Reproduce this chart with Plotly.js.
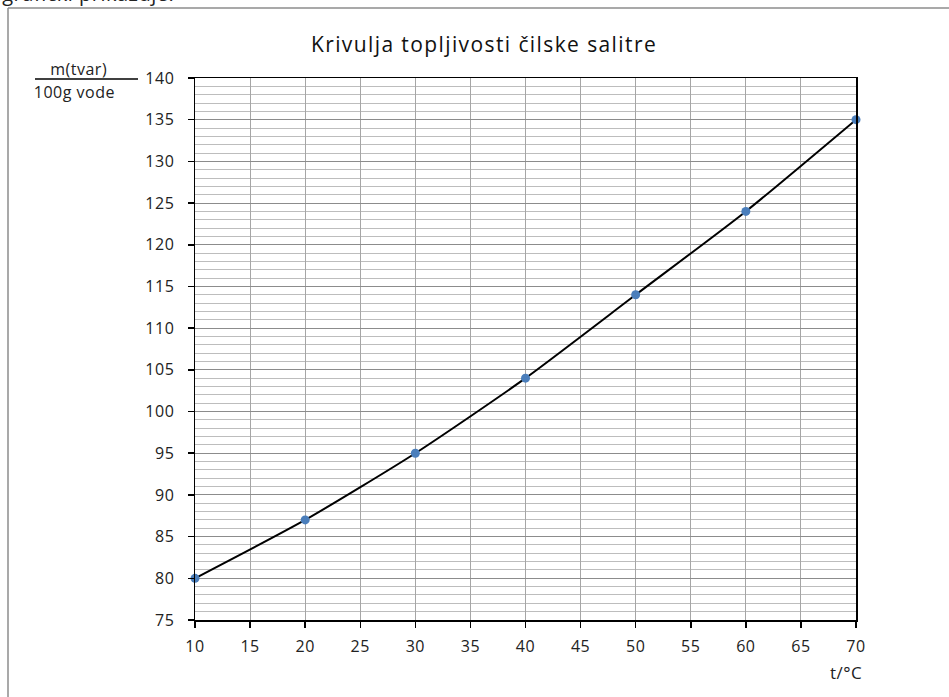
<!DOCTYPE html>
<html><head><meta charset="utf-8">
<script src="https://cdn.plot.ly/plotly-3.0.1.min.js"></script>
<style>
html,body{margin:0;padding:0;background:#fff;}
#chart{width:949px;height:697px;}
#chart text{letter-spacing:0.5px;}
#chart .gtitle{letter-spacing:1.4px;}
</style>
</head><body><div id="chart"></div>
<script>
const temperatures = [10, 20, 30, 40, 50, 60, 70];
const solubility = [80, 87, 95, 104, 114, 124, 135];
const chartTitle = 'Krivulja topljivosti čilske salitre';
const xTitle = 't/°C';
const yTitleTop = 'm(tvar)';
const yTitleBottom = '100g vode';
const headerText = 'grafički prikazuje.';

const W = 949, H = 697;
const M = {l: 195, r: 93, t: 78, b: 77};
const PW = W - M.l - M.r, PH = H - M.t - M.b;
const px = v => (v - M.l) / PW;
const py = v => (H - M.b - v) / PH;
const FONT = '"Open Sans", Lato, sans-serif';
const TXT = '#222';

const traces = [{
  x: temperatures, y: solubility, type: 'scatter', mode: 'lines+markers',
  line: {color: '#000', width: 2, shape: 'spline', smoothing: 0.6},
  marker: {color: '#4A7EBB', size: 9},
  cliponaxis: false, hoverinfo: 'x+y'
}];

const layout = {
  width: W, height: H,
  margin: M,
  paper_bgcolor: '#fff', plot_bgcolor: '#fff',
  showlegend: false,
  font: {family: FONT, size: 16, color: TXT},
  title: {text: chartTitle, font: {family: FONT, size: 21, color: '#111'}, x: px(484), xanchor: 'center', y: 1 - 45/H, yanchor: 'middle', xref: 'paper'},
  xaxis: {
    range: [10, 70], dtick: 5, tick0: 10, showgrid: true, gridcolor: '#a6a6a6', gridwidth: 1,
    zeroline: false, showline: true, linecolor: '#000', linewidth: 1.5, mirror: true,
    ticks: 'outside', ticklen: 6, tickcolor: '#000', tickwidth: 1.5, ticklabelstandoff: 5,
    tickfont: {family: FONT, size: 16, color: TXT}
  },
  yaxis: {
    range: [75, 140], dtick: 5, tick0: 75, showgrid: true, gridcolor: '#8c8c8c', gridwidth: 1,
    minor: {dtick: 1, showgrid: true, gridcolor: '#bdbdbd', gridwidth: 1},
    zeroline: false, showline: true, linecolor: '#000', linewidth: 1.5, mirror: true,
    ticks: 'outside', ticklen: 6, tickcolor: '#000', tickwidth: 1.5, ticklabelstandoff: 10,
    tickfont: {family: FONT, size: 16, color: TXT}
  },
  annotations: [
    {text: xTitle, xref: 'paper', yref: 'paper', x: px(846), y: py(672), xanchor: 'center', yanchor: 'middle', showarrow: false, font: {family: FONT, size: 17, color: TXT}},
    {text: yTitleTop, xref: 'paper', yref: 'paper', x: px(79), y: py(69), xanchor: 'center', yanchor: 'middle', showarrow: false, font: {family: FONT, size: 16, color: TXT}},
    {text: yTitleBottom, xref: 'paper', yref: 'paper', x: px(34), y: py(92), xanchor: 'left', yanchor: 'middle', showarrow: false, font: {family: FONT, size: 16, color: TXT}},
    {text: headerText, xref: 'paper', yref: 'paper', x: px(5), y: py(9), xanchor: 'left', yanchor: 'bottom', showarrow: false, font: {family: FONT, size: 20, color: TXT}}
  ],
  shapes: [
    {type: 'line', xref: 'paper', yref: 'paper', x0: px(35), x1: px(138), y0: py(79), y1: py(79), line: {color: '#000', width: 1.5}},
    {type: 'line', xref: 'paper', yref: 'paper', x0: px(8), x1: px(8), y0: py(8), y1: py(700), line: {color: '#8c8c8c', width: 1.5}},
    {type: 'line', xref: 'paper', yref: 'paper', x0: px(8), x1: px(952), y0: py(8), y1: py(8), line: {color: '#8c8c8c', width: 1.5}}
  ]
};

Plotly.newPlot('chart', traces, layout, {displayModeBar: false, staticPlot: true});
</script></body></html>
